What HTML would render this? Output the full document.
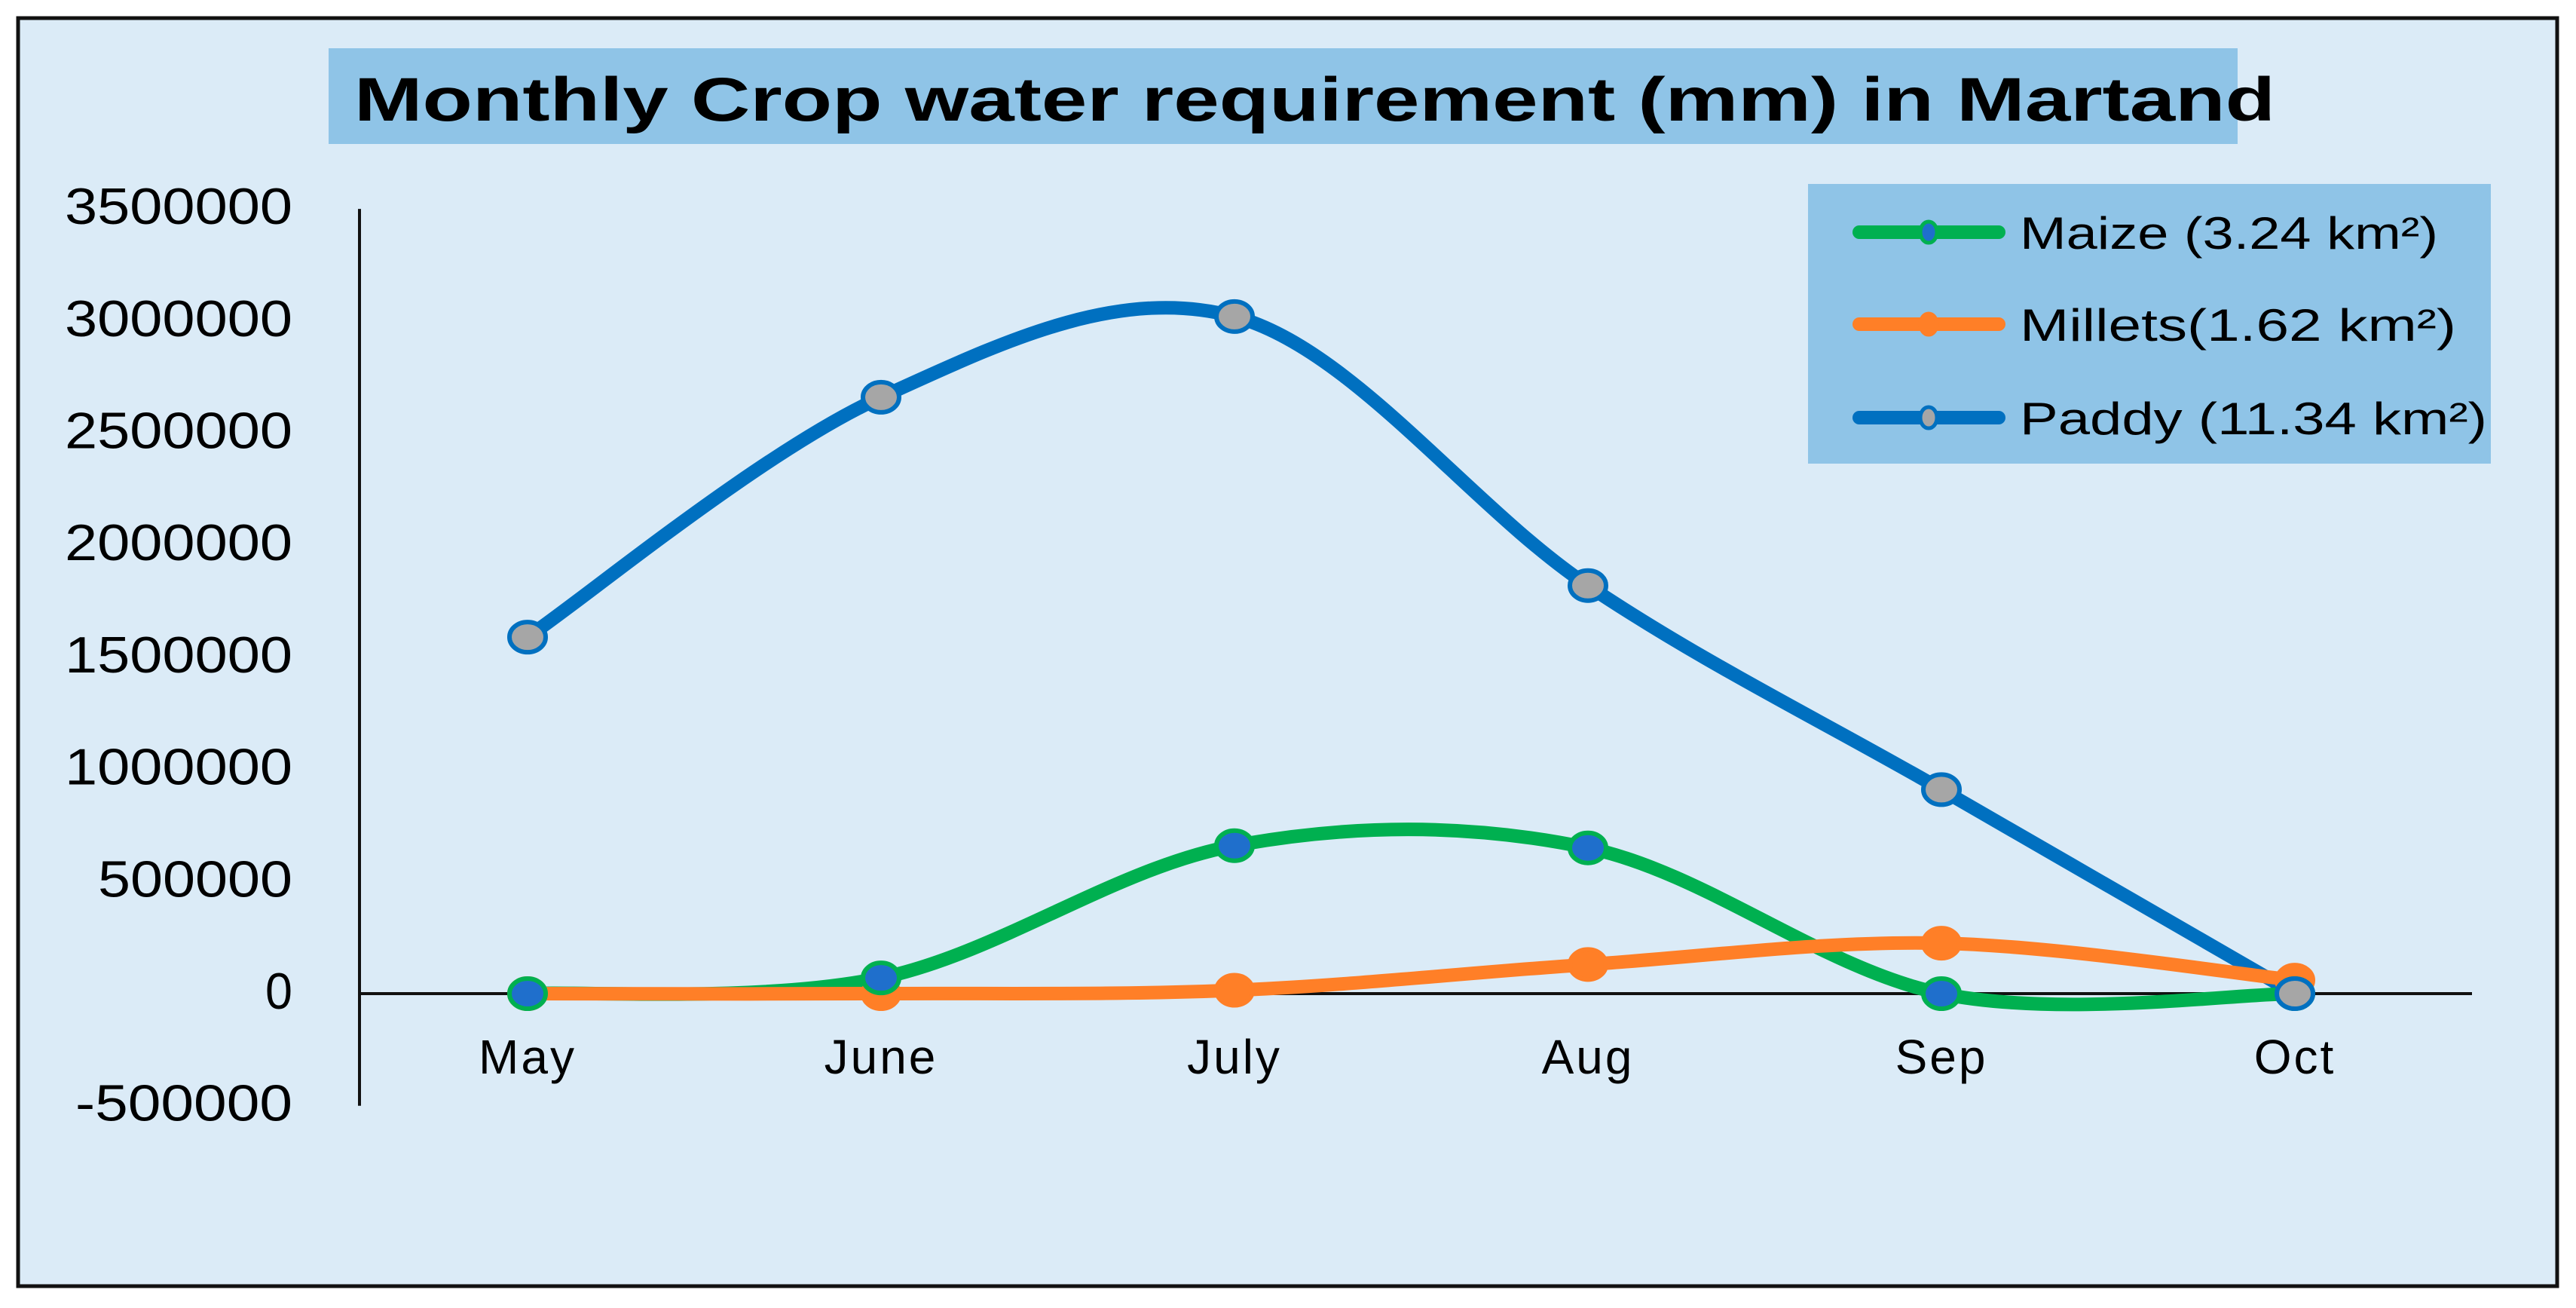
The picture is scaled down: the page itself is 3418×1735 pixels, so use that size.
<!DOCTYPE html>
<html><head><meta charset="utf-8"><style>
html,body{margin:0;padding:0;background:#fff;}
svg{display:block;font-family:"Liberation Sans",sans-serif;}
</style></head><body>
<svg id="chart" width="3418" height="1735" viewBox="0 0 3418 1735">
<rect x="24" y="24" width="3369" height="1682" fill="#dbebf7" stroke="#111" stroke-width="5"/>
<rect x="436" y="64" width="2533" height="127" fill="#8fc4e7"/>
<text x="470" y="160" font-size="82" font-weight="bold" textLength="2549" lengthAdjust="spacingAndGlyphs" fill="#000">Monthly Crop water requirement (mm) in Martand</text>
<g id="axes"></g>
<g id="series"></g>
<rect x="2399" y="244" width="906" height="371" fill="#8fc4e7"/>
<g id="legend"></g>
</svg>
<script>
const months = ["May","June","July","Aug","Sep","Oct"];
const yTicks = [3500000,3000000,2500000,2000000,1500000,1000000,500000,0,-500000];
const maize = [0,70000,660000,650000,0,0];
const millets = [0,0,15000,130000,225000,60000];
const paddy = [1590000,2660000,3020000,1820000,910000,0];
const seriesNames = ["Maize (3.24 km²)","Millets(1.62 km²)","Paddy (11.34 km²)"];

const NS="http://www.w3.org/2000/svg";
function X(i){return 700+i*469;}
function Y(v){return 1318 - v/500000*148.7;}
function mk(tag,attrs,parent){const e=document.createElementNS(NS,tag);for(const k in attrs)e.setAttribute(k,attrs[k]);parent.appendChild(e);return e;}
const axes=document.getElementById('axes');
let l=mk('line',{x1:477,y1:Y(3500000),x2:477,y2:Y(-500000),stroke:'#111','stroke-width':4},axes);


l=mk('line',{x1:477,y1:Y(0),x2:3280,y2:Y(0),stroke:'#111','stroke-width':4},axes);


yTicks.forEach(v=>{
  const s=String(v);
  const w=s.length===7?(s[0]==='-'?288:302):(s.length===6?258:36);
  const t=mk('text',{x:388-w,y:Y(v)+20,'font-size':68,fill:'#000',textLength:w,lengthAdjust:'spacingAndGlyphs'},axes);
  t.textContent=s;
  
  
});
months.forEach((m,i)=>{
  const t=mk('text',{x:X(i),y:1424,'font-size':64,'text-anchor':'middle',fill:'#000','letter-spacing':3},axes);
  t.textContent=m;
  
  
});
function smoothPath(vals){
  const p=vals.map((v,i)=>[X(i),Y(v)]);
  let d='M'+p[0][0]+','+p[0][1];
  for(let i=0;i<p.length-1;i++){
    const p0=p[Math.max(0,i-1)],p1=p[i],p2=p[i+1],p3=p[Math.min(p.length-1,i+2)];
    const c1=[p1[0]+(p2[0]-p0[0])/6,p1[1]+(p2[1]-p0[1])/6];
    const c2=[p2[0]-(p3[0]-p1[0])/6,p2[1]-(p3[1]-p1[1])/6];
    d+=' C'+c1+' '+c2+' '+p2;
  }
  return d;
}
const sg=document.getElementById('series');
const defs=[
 {vals:paddy,name:'paddy',line:'#0070c0',fill:'#a6a6a6',edge:'#0070c0'},
 {vals:maize,name:'maize',line:'#00b050',fill:'#1f6fcc',edge:'#00b050'},
 {vals:millets,name:'millets',line:'#ff7f27',fill:'#ff7f27',edge:'#ff7f27'}
];
defs.forEach(s=>{
  const p=mk('path',{d:smoothPath(s.vals),fill:'none',stroke:s.line,'stroke-width':18,'stroke-linecap':'round'},sg);
  
  
});
defs.slice().reverse().forEach(s=>{
  s.vals.forEach((v,i)=>{
    const c=mk('ellipse',{cx:X(i),cy:Y(v),rx:24,ry:20,fill:s.fill,stroke:s.edge,'stroke-width':6},sg);
    
    
  });
});
const lg=document.getElementById('legend');
const legY=[308,430,554];
const legW=[555,579,620];
const legCols=[[ '#00b050','#1f6fcc'],['#ff7f27','#ff7f27'],['#0070c0','#a6a6a6']];
seriesNames.forEach((n,i)=>{
  const ln=mk('line',{x1:2467,y1:legY[i],x2:2652,y2:legY[i],stroke:legCols[i][0],'stroke-width':18,'stroke-linecap':'round'},lg);
  
  
  const m=mk('ellipse',{cx:2559,cy:legY[i],rx:11,ry:14,fill:legCols[i][1],stroke:legCols[i][0],'stroke-width':5},lg);
  
  
  const t=mk('text',{x:2680,y:legY[i]+22,'font-size':60,fill:'#000',textLength:legW[i],lengthAdjust:'spacingAndGlyphs'},lg);
  t.textContent=n;
  
  
});
</script>
</body></html>
